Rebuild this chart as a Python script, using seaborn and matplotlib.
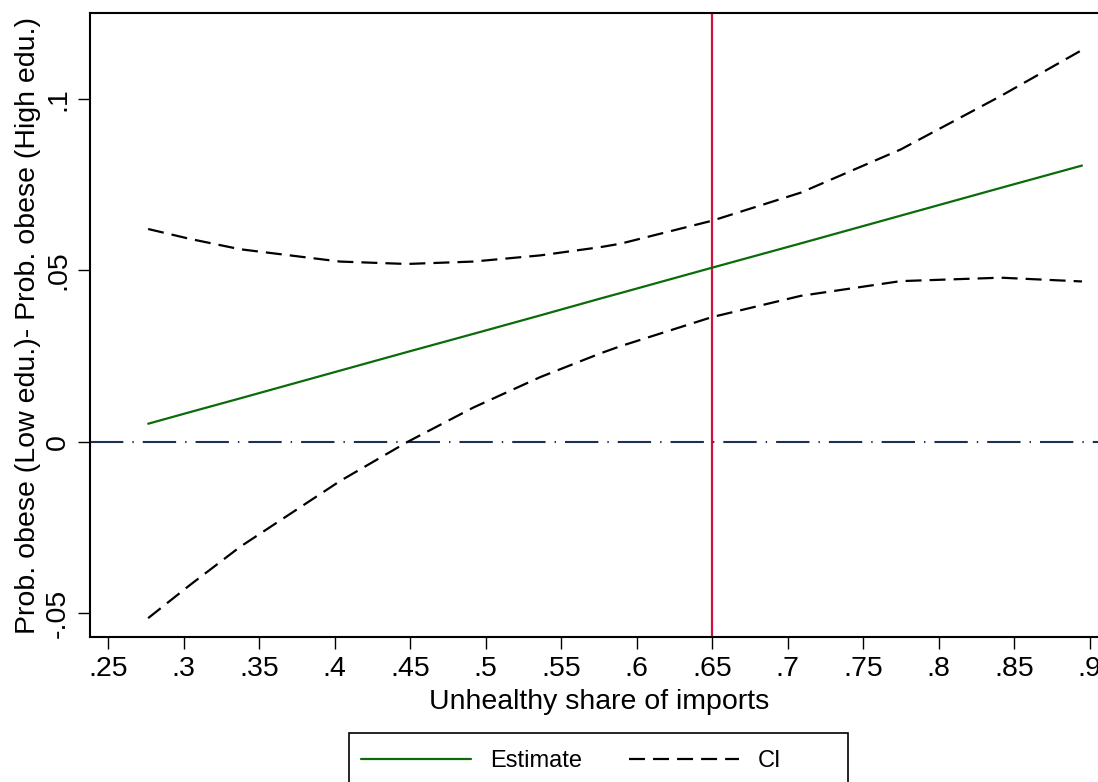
import numpy as np
import pandas as pd
import matplotlib
matplotlib.use("Agg")
import matplotlib.pyplot as plt
import seaborn as sns
from matplotlib.patches import Rectangle
from matplotlib.lines import Line2D

# Values
share = [0.2765, 0.3043, 0.3374, 0.4036, 0.4478, 0.4917, 0.5361, 0.5758, 0.5891,
         0.6498, 0.7086, 0.7748, 0.8411, 0.8948]
estimate = [0.0052, 0.0086, 0.0126, 0.0207, 0.0261, 0.0314, 0.0368, 0.0417, 0.0433,
            0.0507, 0.0578, 0.0659, 0.0740, 0.0805]
ci_upper = [0.0620, 0.0591, 0.0561, 0.0525, 0.0518, 0.0525, 0.0543, 0.0567, 0.0577,
            0.0644, 0.0726, 0.0852, 0.1008, 0.1142]
ci_lower = [-0.0515, -0.0418, -0.0307, -0.0115, -0.0002, 0.0099, 0.0188, 0.0257, 0.0278,
            0.0363, 0.0425, 0.0468, 0.0478, 0.0467]
threshold = 0.65
x_ticks = [0.25, 0.3, 0.35, 0.4, 0.45, 0.5, 0.55, 0.6, 0.65, 0.7, 0.75, 0.8, 0.85, 0.9]
x_labels = [".25", ".3", ".35", ".4", ".45", ".5", ".55", ".6", ".65", ".7", ".75", ".8", ".85", ".9"]
y_ticks = [-0.05, 0, 0.05, 0.1]
y_labels = ["-.05", "0", ".05", ".1"]

df = pd.DataFrame({"share": share, "estimate": estimate, "upper": ci_upper, "lower": ci_lower})

sns.set_style("white")
plt.rcParams["font.family"] = ["Liberation Sans", "DejaVu Sans"]
plt.rcParams["lines.scale_dashes"] = False
plt.rcParams["text.color"] = "black"
plt.rcParams["axes.labelcolor"] = "black"
plt.rcParams["xtick.color"] = "black"
plt.rcParams["ytick.color"] = "black"

green = "#0b6b0b"
fig = plt.figure(figsize=(10.98, 7.82), dpi=100)
ax = fig.add_axes([90 / 1098, 1 - 637 / 782, 1.01 - 90 / 1098, (637 - 13) / 782])

sns.lineplot(data=df, x="share", y="estimate", color=green, lw=1.6, ax=ax)
sns.lineplot(data=df, x="share", y="upper", color="black", lw=1.6, ax=ax)
sns.lineplot(data=df, x="share", y="lower", color="black", lw=1.6, ax=ax)
for ln in ax.lines[1:3]:
    ln.set_dashes([11.5, 5.8])

ax.axhline(0, color="#1f2f52", lw=1.5, dashes=[24, 6.5, 1, 6.5], zorder=1)
ax.axvline(threshold, color="#d1103c", lw=1.6, zorder=1)

ax.set_xlim(0.238, 0.9127)
ax.set_ylim(-0.057, 0.125)
ax.set_xticks(x_ticks)
ax.set_xticklabels(x_labels, fontsize=20.5)
ax.set_yticks(y_ticks)
ax.set_yticklabels(y_labels, fontsize=20.5, rotation=90, va="center")
ax.tick_params(axis="both", direction="out", length=8.5, width=1, color="black",
               left=True, bottom=True, pad=5)
for s in ax.spines.values():
    s.set_color("black")
    s.set_linewidth(1.5)
ax.set_xlabel("Unhealthy share of imports", fontsize=20.5, labelpad=5)
ax.set_ylabel("Prob. obese (Low edu.)- Prob. obese (High edu.)", fontsize=20.5, labelpad=3)

# legend box (bottom part falls outside the image, as in the original)
fig.patches.append(Rectangle((349 / 1098, 1 - 800 / 782), (848 - 349) / 1098, 67 / 782,
                             transform=fig.transFigure, fill=False, ec="black", lw=1.2))
handles = [Line2D([], [], color=green, lw=1.6),
           Line2D([], [], color="black", lw=1.6, dashes=[11.5, 5.8])]
fig.legend(handles, ["Estimate", "CI"], loc="center left", ncol=2, frameon=False,
           bbox_to_anchor=(361 / 1098, 1 - 761 / 782), fontsize=17, handlelength=4.65,
           handletextpad=0.8, columnspacing=2.0, borderpad=0, borderaxespad=0)

fig.savefig("out.png", dpi=100)
